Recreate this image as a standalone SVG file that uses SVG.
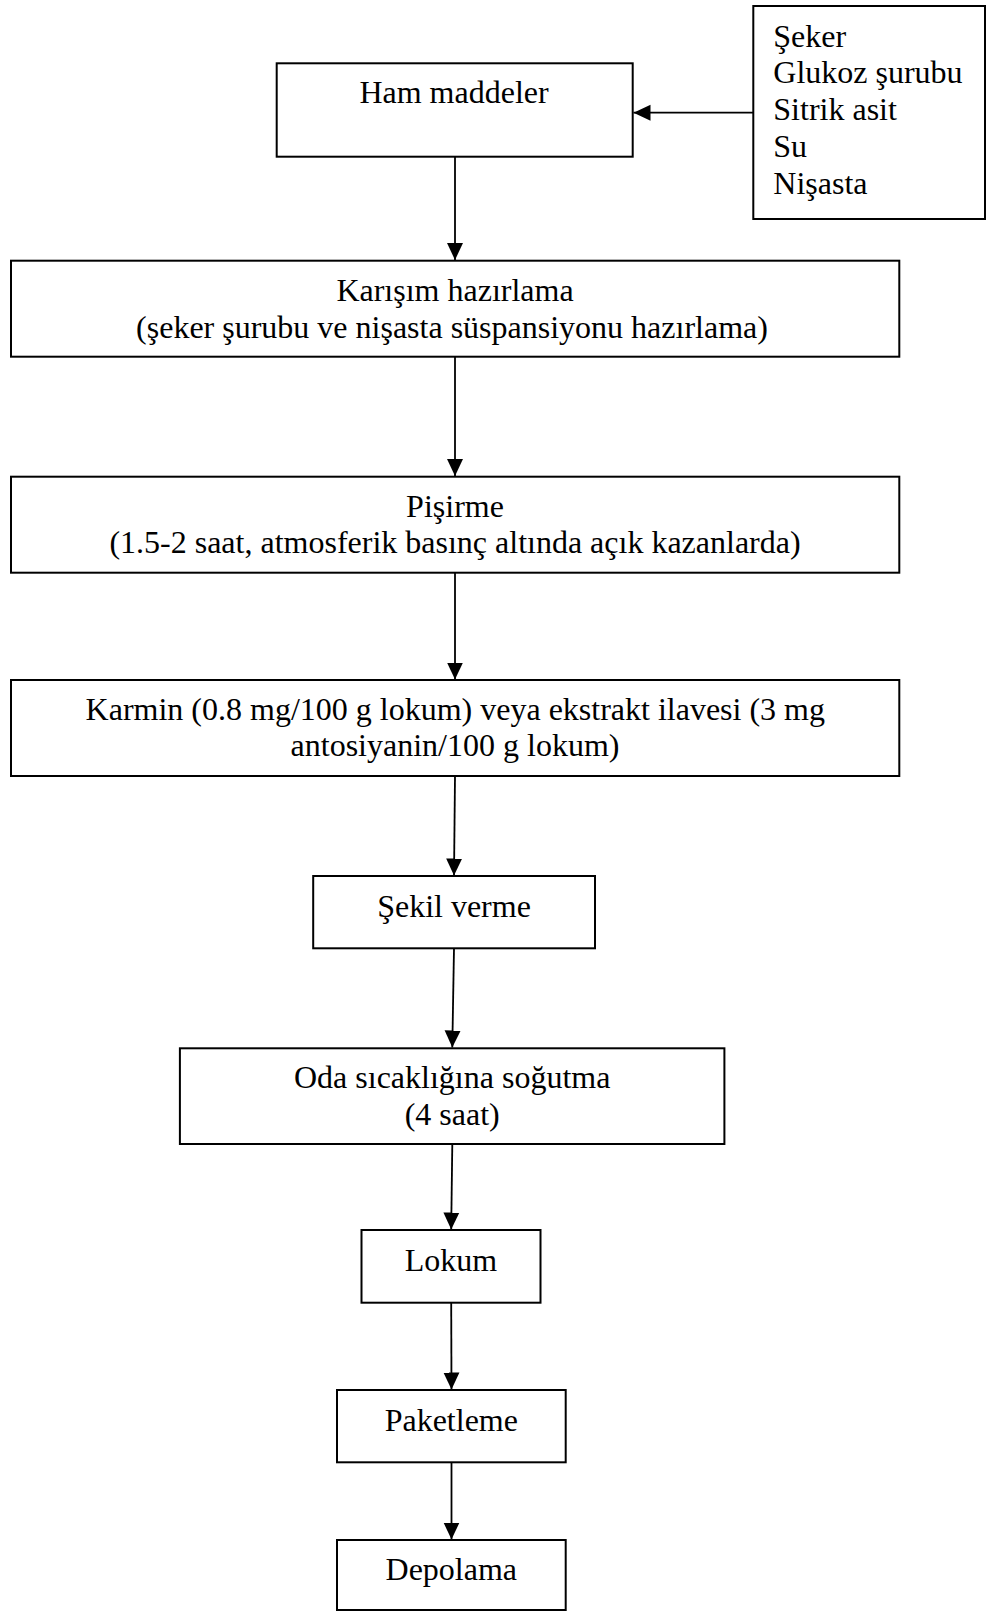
<svg xmlns="http://www.w3.org/2000/svg" width="986" height="1612" viewBox="0 0 986 1612">
  <style>
    .box { fill: #ffffff; stroke: #000000; stroke-width: 2; }
    .lbl { font-family: "Liberation Serif", "Times New Roman", serif; font-size: 32px; fill: #000000; text-anchor: middle; }
    .lst { font-family: "Liberation Serif", "Times New Roman", serif; font-size: 32px; fill: #000000; text-anchor: start; }
    .edge { fill: none; stroke: #000000; stroke-width: 1.8; marker-end: url(#arrow); }
  </style>
  <defs>
    <marker id="arrow" markerUnits="userSpaceOnUse" markerWidth="18" markerHeight="17" refX="17" refY="8.5" orient="auto">
      <path d="M0,0.5 L17,8.5 L0,16.5 Z" fill="#000000"/>
    </marker>
  </defs>
  <rect width="986" height="1612" fill="#ffffff"/>

  <!-- connectors -->
  <g id="connectors">
    <path class="edge" d="M753,112.7 L633.5,112.7"/>
    <path class="edge" d="M455,156.7 L455,260"/>
    <path class="edge" d="M455,356.7 L455,476"/>
    <path class="edge" d="M455,572.7 L455,679.5"/>
    <path class="edge" d="M455,776 L454,875.5"/>
    <path class="edge" d="M454,948.3 L452.3,1047.5"/>
    <path class="edge" d="M452.3,1144 L451.2,1229.5"/>
    <path class="edge" d="M451.2,1302.7 L451.5,1389.5"/>
    <path class="edge" d="M451.5,1462.3 L451.5,1539.5"/>
  </g>

  <!-- raw material list -->
  <g id="ingredients">
    <rect class="box" x="753.3" y="6" width="231.7" height="213"/>
    <text class="lst" x="773.3" y="46.7">Şeker</text>
    <text class="lst" x="773.3" y="83.3">Glukoz şurubu</text>
    <text class="lst" x="773.3" y="120">Sitrik asit</text>
    <text class="lst" x="773.3" y="156.9">Su</text>
    <text class="lst" x="773.3" y="193.8">Nişasta</text>
  </g>

  <g id="ham-maddeler">
    <rect class="box" x="276.7" y="63.3" width="356" height="93.4"/>
    <text class="lbl" x="454" y="103.3">Ham maddeler</text>
  </g>

  <g id="karisim">
    <rect class="box" x="11" y="260.7" width="888.3" height="96"/>
    <text class="lbl" x="455" y="301">Karışım hazırlama</text>
    <text class="lbl" x="452" y="337.5">(şeker şurubu ve nişasta süspansiyonu hazırlama)</text>
  </g>

  <g id="pisirme">
    <rect class="box" x="11" y="476.7" width="888.3" height="96"/>
    <text class="lbl" x="455" y="516.5">Pişirme</text>
    <text class="lbl" x="455" y="552.5">(1.5-2 saat, atmosferik basınç altında açık kazanlarda)</text>
  </g>

  <g id="karmin">
    <rect class="box" x="11" y="680" width="888.3" height="96"/>
    <text class="lbl" x="455.3" y="720">Karmin (0.8 mg/100 g lokum) veya ekstrakt ilavesi (3 mg</text>
    <text class="lbl" x="455" y="756">antosiyanin/100 g lokum)</text>
  </g>

  <g id="sekil-verme">
    <rect class="box" x="313.2" y="876" width="281.8" height="72.3"/>
    <text class="lbl" x="454" y="916.7">Şekil verme</text>
  </g>

  <g id="sogutma">
    <rect class="box" x="179.9" y="1048.3" width="544.5" height="95.7"/>
    <text class="lbl" x="452.2" y="1088.3">Oda sıcaklığına soğutma</text>
    <text class="lbl" x="452.2" y="1125">(4 saat)</text>
  </g>

  <g id="lokum">
    <rect class="box" x="361.5" y="1230" width="179" height="72.7"/>
    <text class="lbl" x="451" y="1270.7">Lokum</text>
  </g>

  <g id="paketleme">
    <rect class="box" x="337" y="1390" width="228.7" height="72.3"/>
    <text class="lbl" x="451.3" y="1431">Paketleme</text>
  </g>

  <g id="depolama">
    <rect class="box" x="337" y="1540" width="228.7" height="70"/>
    <text class="lbl" x="451.3" y="1580">Depolama</text>
  </g>
</svg>
